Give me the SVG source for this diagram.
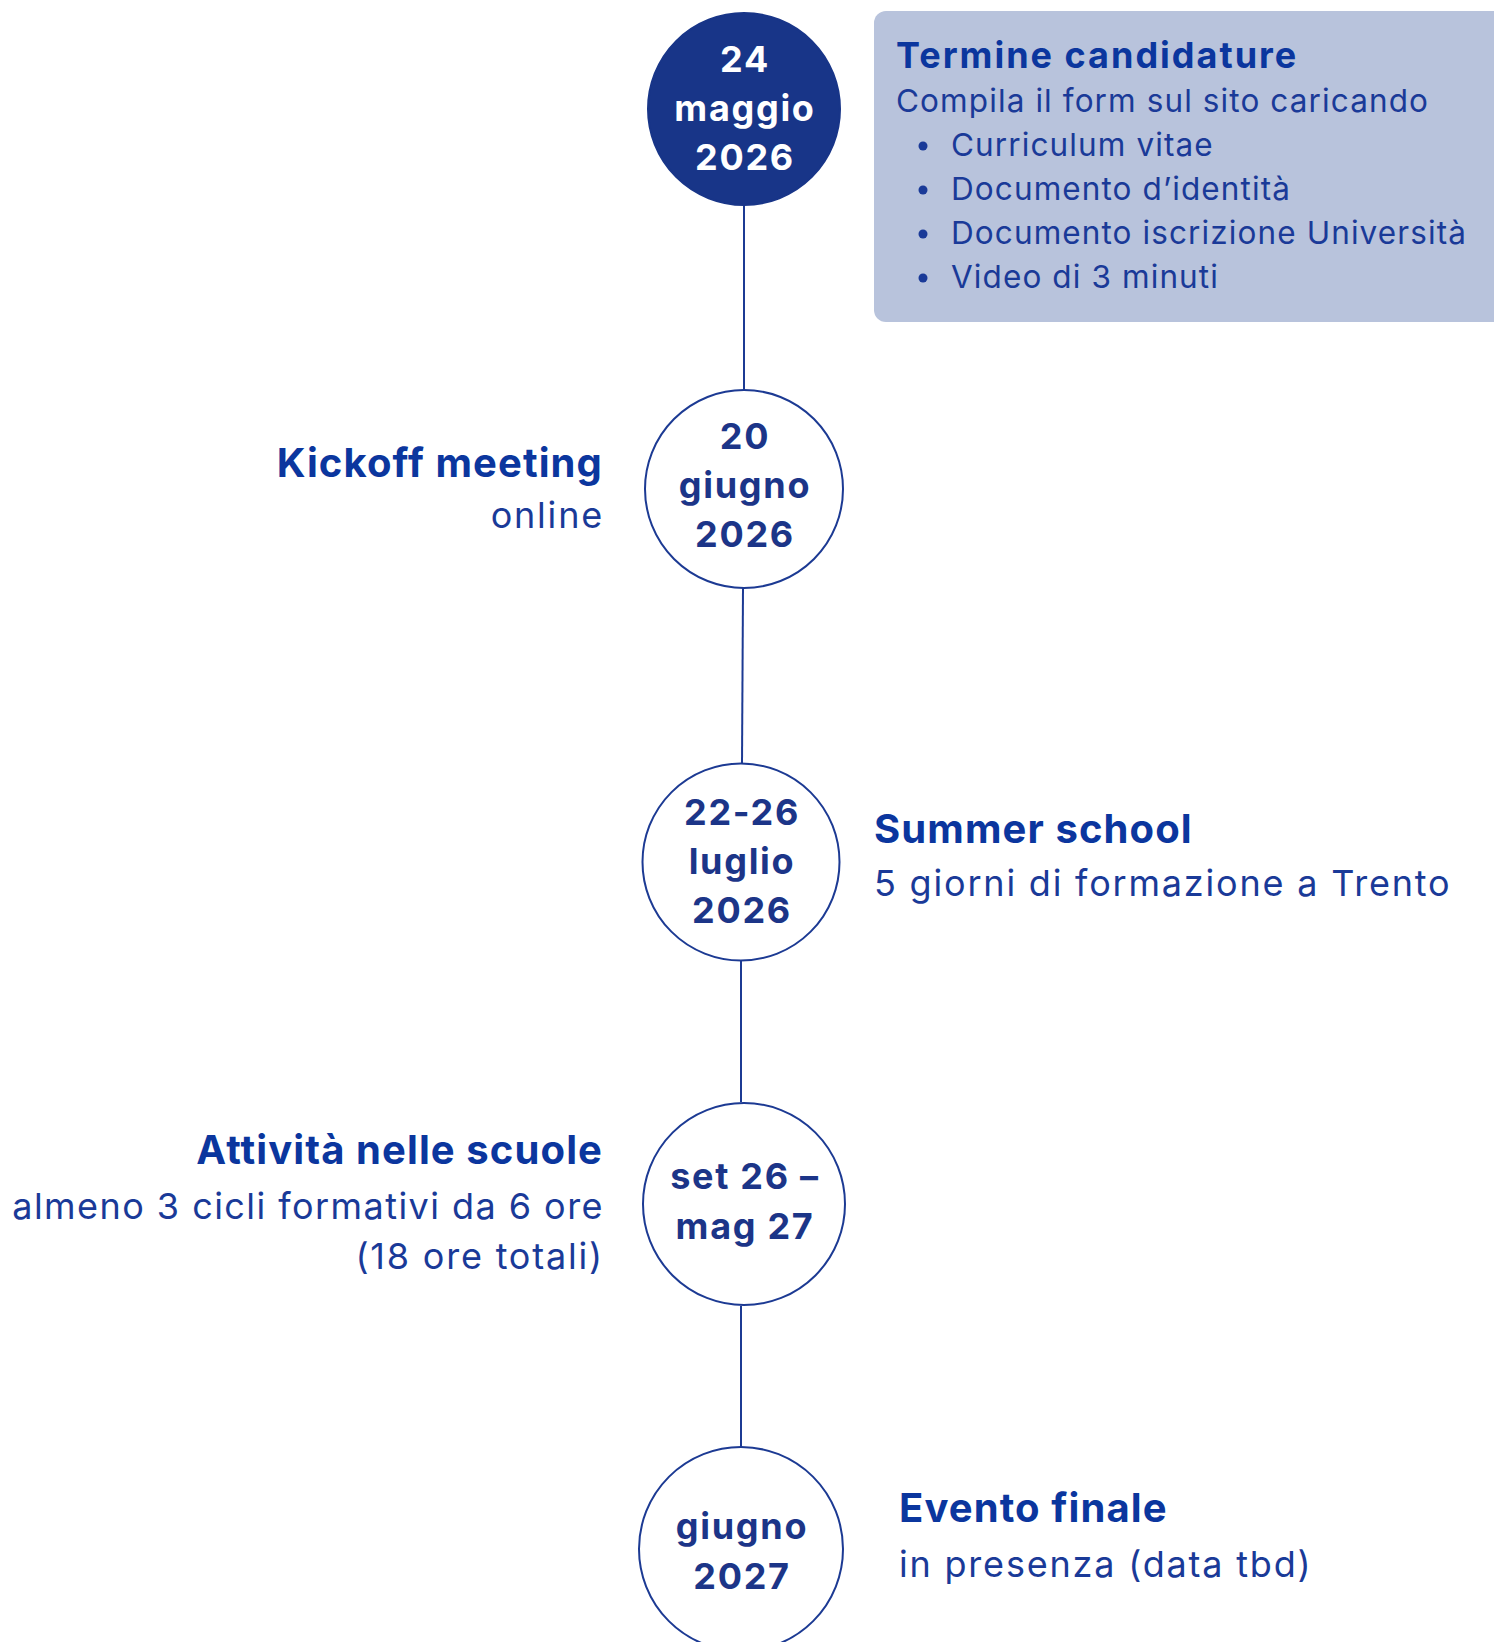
<svg xmlns="http://www.w3.org/2000/svg" width="1494" height="1642" viewBox="0 0 1494 1642">
<style>
text{font-family:Inter,"Open Sans","Liberation Sans",sans-serif;}
.c{fill:#fff;stroke:#1c3a93;stroke-width:2}
.cf{fill:#183588;stroke:#183588;stroke-width:2}
.ct{font-size:36px;font-weight:700;fill:#1c3588;text-anchor:middle;letter-spacing:1.7px}
.cw{font-size:36px;font-weight:700;fill:#fff;text-anchor:middle;letter-spacing:1.7px}
.h{font-size:40px;font-weight:700;fill:#0b369e;letter-spacing:1.1px}
.b{font-size:36px;font-weight:400;fill:#1a3a98;letter-spacing:1.8px}
.bh{font-size:36px;font-weight:700;fill:#0b369e;letter-spacing:2px}
.bb{font-size:31.5px;font-weight:400;fill:#1a3a98;letter-spacing:1.1px}
.r{text-anchor:end}
.ln{stroke:#1c3a93;stroke-width:2;fill:none}
</style>
<g id="connectors">
<line class="ln" x1="744" y1="205" x2="744" y2="390"/>
<line class="ln" x1="743" y1="588" x2="742" y2="763"/>
<line class="ln" x1="741" y1="961" x2="741" y2="1102"/>
<line class="ln" x1="741" y1="1306" x2="741" y2="1447"/>
</g>
<g id="node1">
<circle class="cf" cx="744" cy="109" r="96"/>
<text class="cw" x="745" y="72">24</text>
<text class="cw" x="745" y="121">maggio</text>
<text class="cw" x="745" y="170">2026</text>
</g>
<g id="box1">
<rect x="874" y="11" width="640" height="311" rx="12" fill="#b8c3dc"/>
<text class="bh" x="896" y="68">Termine candidature</text>
<text class="bb" x="896" y="112">Compila il form sul sito caricando</text>
<circle cx="923" cy="146" r="4.5" fill="#1a3a98"/>
<text class="bb" x="951" y="156">Curriculum vitae</text>
<circle cx="923" cy="190" r="4.5" fill="#1a3a98"/>
<text class="bb" x="951" y="200">Documento d’identità</text>
<circle cx="923" cy="234" r="4.5" fill="#1a3a98"/>
<text class="bb" x="951" y="244">Documento iscrizione Università</text>
<circle cx="923" cy="278" r="4.5" fill="#1a3a98"/>
<text class="bb" x="951" y="288">Video di 3 minuti</text>
</g>
<g id="node2">
<circle class="c" cx="744" cy="489" r="99"/>
<text class="ct" x="745" y="449">20</text>
<text class="ct" x="745" y="498">giugno</text>
<text class="ct" x="745" y="547">2026</text>
</g>
<g id="label2">
<text class="h r" x="603" y="477">Kickoff meeting</text>
<text class="b r" x="604" y="528">online</text>
</g>
<g id="node3">
<circle class="c" cx="741" cy="862" r="98.5"/>
<text class="ct" x="742" y="825">22-26</text>
<text class="ct" x="742" y="874">luglio</text>
<text class="ct" x="742" y="923">2026</text>
</g>
<g id="label3">
<text class="h" x="874" y="843">Summer school</text>
<text class="b" x="874" y="896">5 giorni di formazione a Trento</text>
</g>
<g id="node4">
<circle class="c" cx="744" cy="1204" r="101"/>
<text class="ct" x="745" y="1189">set 26 –</text>
<text class="ct" x="745" y="1239">mag 27</text>
</g>
<g id="label4">
<text class="h r" x="603" y="1164">Attività nelle scuole</text>
<text class="b r" x="604" y="1219" style="letter-spacing:1.45px">almeno 3 cicli formativi da 6 ore</text>
<text class="b r" x="604" y="1269">(18 ore totali)</text>
</g>
<g id="node5">
<circle class="c" cx="741" cy="1549" r="102"/>
<text class="ct" x="742" y="1539">giugno</text>
<text class="ct" x="742" y="1589">2027</text>
</g>
<g id="label5">
<text class="h" x="899" y="1522">Evento finale</text>
<text class="b" x="899" y="1577">in presenza (data tbd)</text>
</g>
</svg>
